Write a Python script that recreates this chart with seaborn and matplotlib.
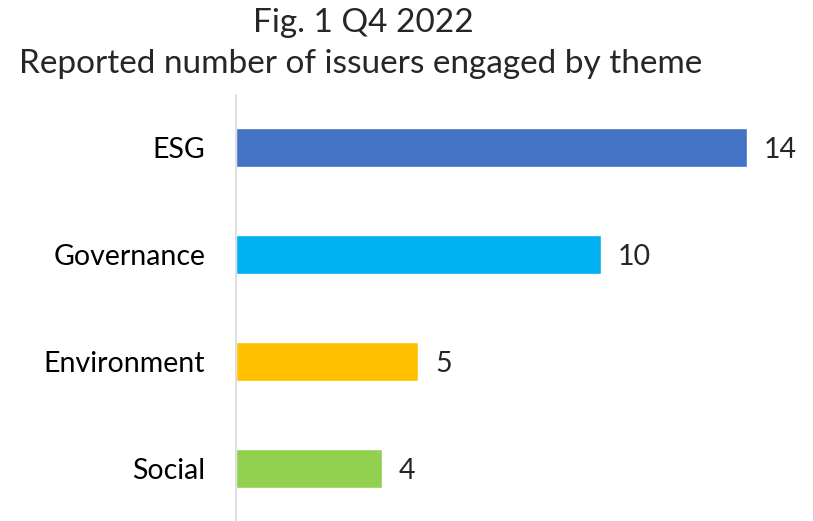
import matplotlib
matplotlib.use('Agg')
import matplotlib.pyplot as plt
import seaborn as sns
import pandas as pd

# Chart data
themes = ['ESG', 'Governance', 'Environment', 'Social']
issuers = [14, 10, 5, 4]
colors = ['#4472C4', '#00B0F0', '#FFC000', '#92D050']

df = pd.DataFrame({'theme': themes, 'issuers': issuers})

sns.set_style('white')
plt.rcParams['font.family'] = ['Lato', 'DejaVu Sans']

fig = plt.figure(figsize=(8.13, 5.21), dpi=100)
ax = fig.add_axes([0.290, 0.0, 0.71, 0.8177])

sns.barplot(data=df, x='issuers', y='theme', hue='theme', palette=colors,
            legend=False, width=0.365, ax=ax, saturation=1)

ax.set_xlim(0, 15.8)
ax.set_ylim(3.49, -0.49)
ax.set_xlabel('')
ax.set_ylabel('')
ax.set_xticks([])
for s in ['top', 'right', 'bottom']:
    ax.spines[s].set_visible(False)
ax.spines['left'].set_color('#D9D9D9')
ax.spines['left'].set_linewidth(1.2)
ax.tick_params(axis='y', length=0, pad=22, labelsize=20.5, labelcolor='black')

# value labels next to the bars
for i, v in enumerate(issuers):
    ax.text(v + 0.45, i, str(v), va='center_baseline', ha='left', fontsize=20.5)

fig.text(363 / 813, 1 - 32 / 521, 'Fig. 1 Q4 2022', ha='center', va='baseline', fontsize=24)
fig.text(361 / 813, 1 - 73 / 521, 'Reported number of issuers engaged by theme',
         ha='center', va='baseline', fontsize=24)

fig.savefig('out.png', dpi=100)
